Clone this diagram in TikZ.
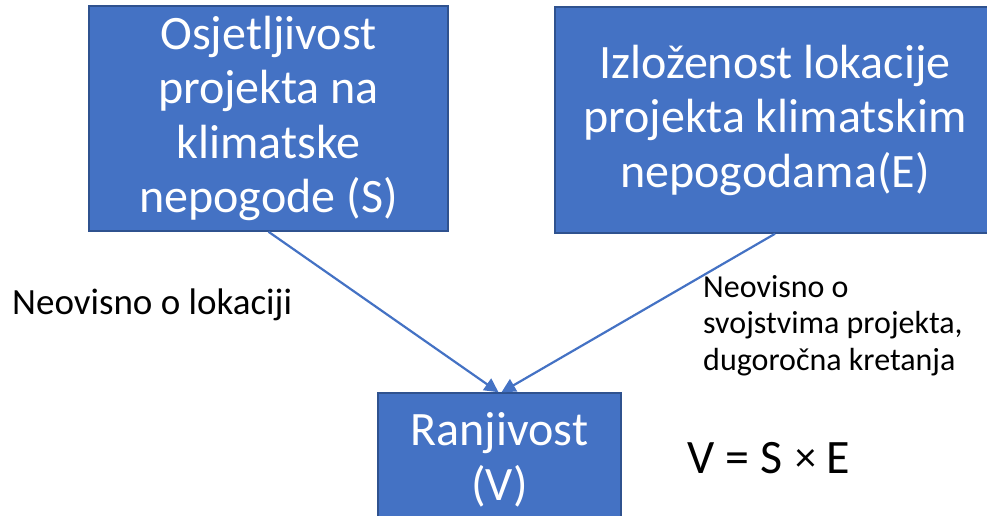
\documentclass[tikz,border=0pt]{standalone}
\usepackage{fontspec}
\setmainfont{Carlito}
\usetikzlibrary{arrows.meta}
\definecolor{boxblue}{HTML}{4472C4}
\definecolor{boxedge}{HTML}{2F528F}
\tikzset{
  box/.style={rectangle, fill=boxblue, draw=boxedge, line width=1.5pt, text=white, align=center, inner sep=0pt},
  bigtext/.style={font=\fontsize{48}{54.5}\selectfont},
  conn/.style={draw=boxblue, line width=2.2pt, -{Triangle[length=14pt,width=14pt]}},
  lbl/.style={text=black, inner sep=0pt}
}
\begin{document}
\begin{tikzpicture}[x=1pt,y=-1pt]
\useasboundingbox (0,0) rectangle (987,516);
\clip (0,0) rectangle (987,516);
\node[box, bigtext, minimum width=359pt, minimum height=225pt] (S) at (268.5,118.5)
  {Osjetljivost\\projekta na\\klimatske\\nepogode (S)};
\node[box, bigtext, minimum width=440pt, minimum height=226pt] (E) at (775,120)
  {Izloženost lokacije\\projekta klimatskim\\nepogodama(E)};
\node[box, bigtext, minimum width=243pt, minimum height=134pt] (V) at (499.5,460)
  {Ranjivost\\(V)};
\draw[conn] (S.south) -- ([xshift=-1pt]V.north);
\draw[conn] (E.south) -- ([xshift=2pt]V.north);
\node[lbl, anchor=base west, font=\fontsize{37}{40}\selectfont] (L1) at (12,314) {Neovisno o lokaciji};
\node[lbl, anchor=base west, align=left, font=\fontsize{32}{36.5}\selectfont] (L2) at (703,370)
  {Neovisno o\\svojstvima projekta,\\dugoročna kretanja};
\node[lbl, anchor=base west, font=\fontsize{48}{52}\selectfont] (F) at (687,473) {V = S\hspace{13pt}\raisebox{2pt}{\fontsize{42}{44}\selectfont ×}\hspace{10pt}E};
\end{tikzpicture}
\end{document}
